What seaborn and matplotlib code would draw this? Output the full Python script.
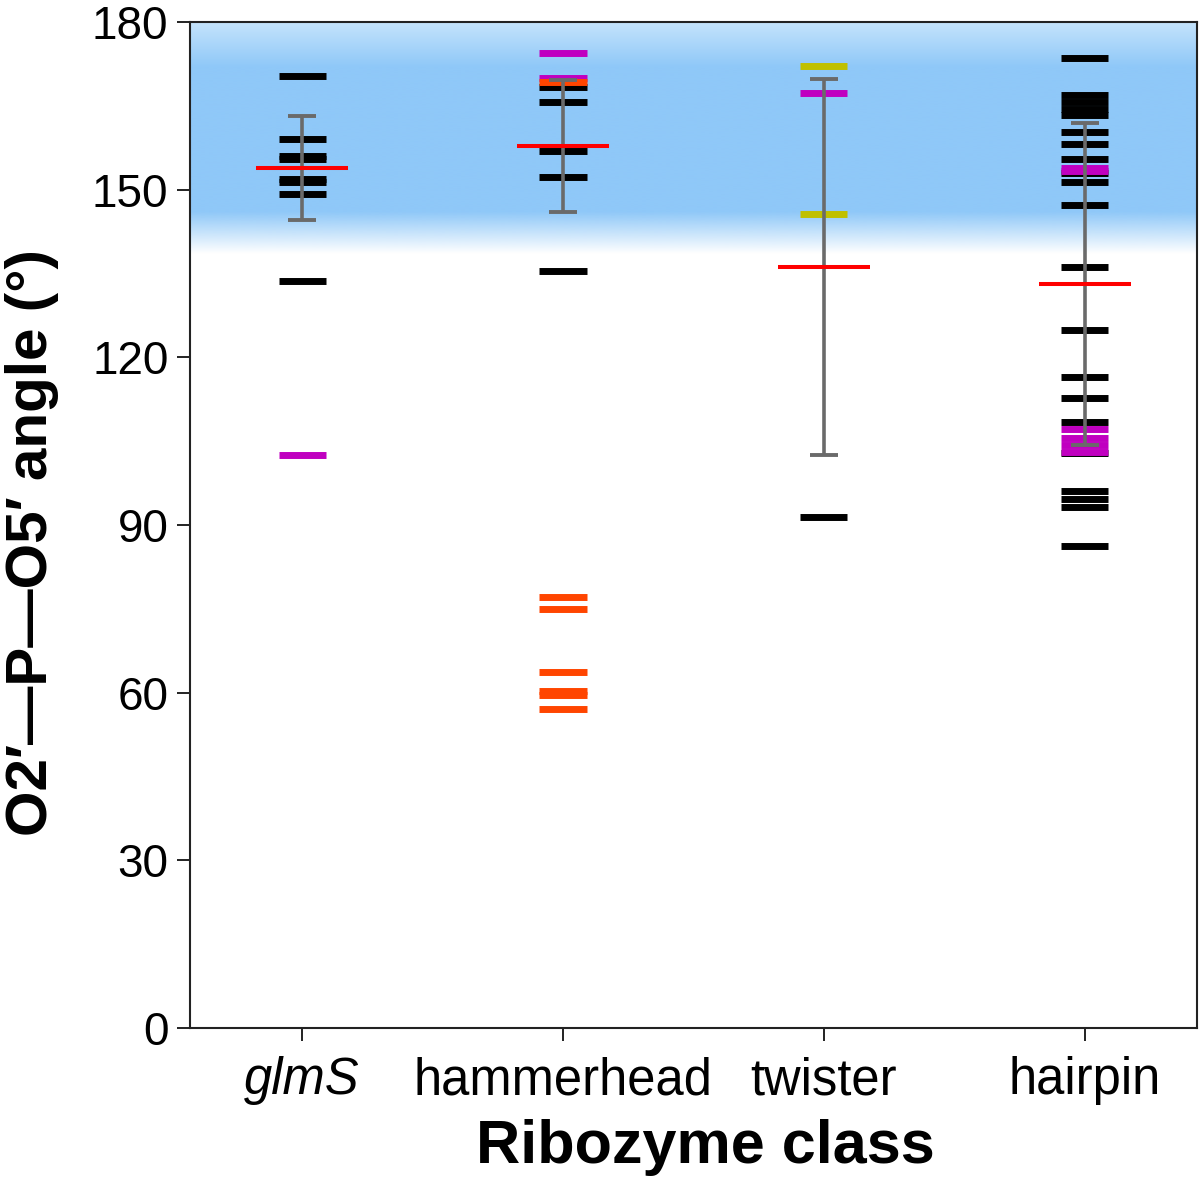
import matplotlib
matplotlib.use("Agg")
import matplotlib.pyplot as plt
import matplotlib.colors as mcolors
import numpy as np
import pandas as pd
import seaborn as sns

CLASSES = ["glmS", "hammerhead", "twister", "hairpin"]

# individual structures, grouped by colour
glms_black = [170.3, 159.1, 156.0, 155.4, 151.9, 151.3, 149.3, 133.7]
glms_magenta = [102.5]

hh_black = [168.4, 165.7, 157.0, 152.3, 135.5]
hh_magenta = [174.4, 169.9]
hh_orange = [169.3, 77.2, 75.0, 63.7, 60.3, 59.6, 57.1]

tw_black = [91.5]
tw_magenta = [167.2]
tw_yellow = [172.2, 145.6]

hp_black = [173.6, 167.0, 165.6, 164.4, 163.3, 160.3, 158.1, 155.4, 152.9, 151.4,
            147.3, 136.1, 124.8, 116.5, 112.8, 108.4, 102.8, 96.0, 94.6, 93.2, 86.2]
hp_magenta = [153.9, 153.3, 107.1, 105.5, 104.3, 103.1]

# mean and standard deviation per class
means = [153.8, 157.8, 136.2, 133.1]
sds = [9.3, 11.8, 33.6, 28.8]

COLORS = {"black": "#000000", "magenta": "#c000c0",
          "orange": "#ff4500", "yellow": "#c0c000"}

groups = [
    ("glmS", "black", glms_black), ("hammerhead", "black", hh_black),
    ("twister", "black", tw_black), ("hairpin", "black", hp_black),
    ("glmS", "magenta", glms_magenta), ("hammerhead", "magenta", hh_magenta),
    ("twister", "magenta", tw_magenta), ("hairpin", "magenta", hp_magenta),
    ("hammerhead", "orange", hh_orange), ("twister", "yellow", tw_yellow),
]
rows = [(c, k, v) for c, k, vals in groups for v in vals]
df = pd.DataFrame(rows, columns=["cls", "kind", "angle"])
df["cls"] = pd.Categorical(df["cls"], categories=CLASSES, ordered=True)

sns.set_theme(style="ticks")
plt.rcParams["font.family"] = ["Liberation Sans", "DejaVu Sans"]
plt.rcParams["text.color"] = "black"
plt.rcParams["xtick.color"] = "black"
plt.rcParams["ytick.color"] = "black"
plt.rcParams["axes.labelcolor"] = "black"

fig = plt.figure(figsize=(12, 11.8), dpi=100)
ax = fig.add_axes([0.1583, 0.1288, 0.8392, 0.8526])

# blue gradient band behind the data
XLIM = (-0.43, 3.43)
BAND_LO, BAND_HI = 138.5, 180
yy = np.linspace(BAND_LO, BAND_HI, 300)
c_mid = np.array(mcolors.to_rgb("#8fc8f8"))
c_top = np.array(mcolors.to_rgb("#c4e3fc"))
alpha = np.interp(yy, [BAND_LO, 146, 180], [0, 1, 1])
t_top = np.interp(yy, [172, 180], [0, 1])
rgb = c_mid[None, :] * (1 - t_top[:, None]) + c_top[None, :] * t_top[:, None]
img = np.concatenate([rgb, alpha[:, None]], axis=1)[:, None, :]
ax.imshow(img, extent=(XLIM[0], XLIM[1], BAND_LO, BAND_HI), origin="lower",
          aspect="auto", zorder=0, interpolation="bilinear")

sns.scatterplot(data=df, x="cls", y="angle", hue="kind", palette=COLORS,
                marker="_", s=1150, linewidth=5, legend=False, ax=ax, zorder=2)

ax.errorbar(range(len(CLASSES)), means, yerr=sds, fmt="none", ecolor="#6a6a6a",
            elinewidth=2.6, capsize=10.4, capthick=2.8, zorder=3)

mean_df = pd.DataFrame({"cls": CLASSES, "angle": means})
sns.scatterplot(data=mean_df, x="cls", y="angle", color="#ff0000", marker="_",
                s=4400, linewidth=2.9, legend=False, ax=ax, zorder=4)

ax.set_xlim(*XLIM)
ax.set_ylim(0, 180)
ax.set_yticks(range(0, 181, 30))
ax.set_xticks(range(len(CLASSES)))
ax.set_xticklabels(CLASSES)
ax.get_xticklabels()[0].set_style("italic")

for sp in ax.spines.values():
    sp.set_visible(True)
    sp.set_linewidth(1.5)
    sp.set_color("#222222")
ax.tick_params(axis="both", length=9.5, width=1.4, color="#222222",
               direction="out")
ax.tick_params(axis="y", labelsize=33, pad=6)
ax.tick_params(axis="x", labelsize=36.5, pad=11)

ax.set_xlabel("Ribozyme class", fontsize=44, fontweight="bold", labelpad=10)
ax.xaxis.label.set_x(0.512)
ax.set_ylabel("O2\u2032\u2014P\u2014O5\u2032 angle (°)", fontsize=42,
              fontweight="bold", labelpad=24)
ax.yaxis.label.set_y(0.483)

fig.savefig("out.png", dpi=100)
